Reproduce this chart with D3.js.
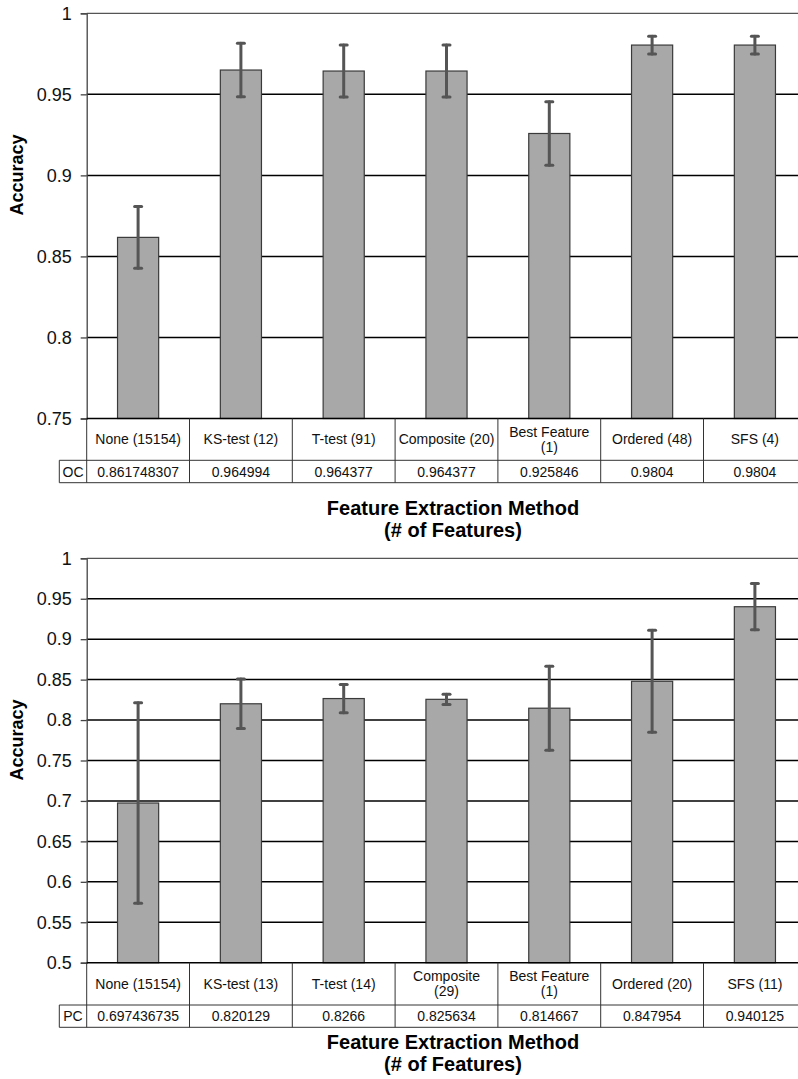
<!DOCTYPE html>
<html>
<head>
<meta charset="utf-8">
<script src="https://cdn.jsdelivr.net/npm/d3@7"></script>
<style>
  body { margin: 0; background: #fff; }
  svg { display: block; font-family: "Liberation Sans", Arial, Helvetica, sans-serif; }
</style>
</head>
<body>
<svg id="chart" width="798" height="1079"></svg>
<script>
// top panel: OC
const methodsOC = ["None (15154)", "KS-test (12)", "T-test (91)", "Composite (20)", "Best Feature\n(1)", "Ordered (48)", "SFS (4)"];
const accuracyOC = [0.861748307, 0.964994, 0.964377, 0.964377, 0.925846, 0.9804, 0.9804];
const accuracyLabelsOC = ["0.861748307", "0.964994", "0.964377", "0.964377", "0.925846", "0.9804", "0.9804"];
const errorOC = [0.019, 0.0165, 0.016, 0.016, 0.0196, 0.0055, 0.0055];
const ticksOC = [0.75, 0.8, 0.85, 0.9, 0.95, 1];

// bottom panel: PC
const methodsPC = ["None (15154)", "KS-test (13)", "T-test (14)", "Composite\n(29)", "Best Feature\n(1)", "Ordered (20)", "SFS (11)"];
const accuracyPC = [0.697436735, 0.820129, 0.8266, 0.825634, 0.814667, 0.847954, 0.940125];
const accuracyLabelsPC = ["0.697436735", "0.820129", "0.8266", "0.825634", "0.814667", "0.847954", "0.940125"];
const errorPC = [0.124, 0.0305, 0.0175, 0.0063, 0.052, 0.063, 0.0286];
const ticksPC = [0.5, 0.55, 0.6, 0.65, 0.7, 0.75, 0.8, 0.85, 0.9, 0.95, 1];

const svg = d3.select("#chart");
const left = 86.7, right = 806.3;

function drawPanel(p) {
  const g = svg.append("g");

  const x = d3.scaleBand()
    .domain(p.methods)
    .range([left, right])
    .paddingInner(0)
    .paddingOuter(0);

  const y = d3.scaleLinear()
    .domain([p.ticks[0], 1])
    .range([p.base, p.top]);

  // gridlines
  g.append("g")
    .selectAll("line")
    .data(p.ticks.slice(1, -1))
    .join("line")
    .attr("x1", left).attr("x2", right)
    .attr("y1", d => y(d)).attr("y2", d => y(d))
    .attr("stroke", "#000")
    .attr("stroke-width", 1.5);

  // top frame line
  g.append("line")
    .attr("x1", left).attr("x2", right)
    .attr("y1", y(1)).attr("y2", y(1))
    .attr("stroke", "#555").attr("stroke-width", 1.3);

  // y axis
  const yAxis = d3.axisLeft(y)
    .tickValues(p.ticks)
    .tickSize(6)
    .tickPadding(9)
    .tickFormat(d => String(+d.toFixed(2)));

  const ax = g.append("g")
    .attr("transform", `translate(${left},0)`)
    .call(yAxis);
  ax.select(".domain").attr("stroke", "#444").attr("stroke-width", 1.3);
  ax.selectAll(".tick line").attr("stroke", "#444").attr("stroke-width", 1.3);
  ax.selectAll(".tick text")
    .attr("font-size", 18)
    .attr("font-family", "Liberation Sans, Arial, sans-serif")
    .attr("fill", "#111");

  // bars
  const bw = x.step() * 0.4;
  g.append("g")
    .selectAll("rect")
    .data(p.values)
    .join("rect")
    .attr("x", (d, i) => x(p.methods[i]) + (x.step() - bw) / 2)
    .attr("y", d => y(d))
    .attr("width", bw)
    .attr("height", d => p.base - y(d))
    .attr("fill", "#a8a8a8")
    .attr("stroke", "#3a3a3a")
    .attr("stroke-width", 1.2);

  // error bars
  const eg = g.append("g")
    .attr("stroke", "#555")
    .attr("stroke-width", 3)
    .attr("stroke-linecap", "round");
  p.values.forEach((v, i) => {
    const cx = x(p.methods[i]) + x.step() / 2;
    const hi = y(v + p.err[i]), lo = y(v - p.err[i]);
    eg.append("line").attr("x1", cx).attr("x2", cx).attr("y1", hi).attr("y2", lo);
    eg.append("line").attr("x1", cx - 3.5).attr("x2", cx + 3.5).attr("y1", hi).attr("y2", hi);
    eg.append("line").attr("x1", cx - 3.5).attr("x2", cx + 3.5).attr("y1", lo).attr("y2", lo);
  });

  // data table
  const tg = g.append("g").attr("stroke", "#333").attr("stroke-width", 1);
  tg.append("line").attr("x1", left).attr("x2", right).attr("y1", p.base).attr("y2", p.base)
    .attr("stroke", "#000").attr("stroke-width", 1.5);
  tg.append("line").attr("x1", p.labelLeft).attr("x2", right).attr("y1", p.headBottom).attr("y2", p.headBottom);
  tg.append("line").attr("x1", p.labelLeft).attr("x2", right).attr("y1", p.rowBottom).attr("y2", p.rowBottom);
  tg.selectAll("line.col")
    .data(p.methods.concat(["end"]))
    .join("line")
    .attr("class", "col")
    .attr("x1", (d, i) => left + i * x.step())
    .attr("x2", (d, i) => left + i * x.step())
    .attr("y1", p.base).attr("y2", p.rowBottom);
  tg.append("line").attr("x1", p.labelLeft).attr("x2", p.labelLeft)
    .attr("y1", p.headBottom).attr("y2", p.rowBottom);

  // header labels
  const headMid = (p.base + p.headBottom) / 2;
  g.append("g")
    .selectAll("text")
    .data(p.methods)
    .join("text")
    .attr("text-anchor", "middle")
    .attr("font-size", 14)
    .attr("fill", "#111")
    .each(function (d) {
      const lines = d.split("\n");
      const t = d3.select(this);
      const x0 = x(d) + x.step() / 2;
      const y0 = headMid + 5 - (lines.length - 1) * 7.5;
      lines.forEach((ln, k) => {
        t.append("tspan").attr("x", x0).attr("y", y0 + k * 15).text(ln);
      });
    });

  // value row
  const rowMid = (p.headBottom + p.rowBottom) / 2;
  g.append("g")
    .selectAll("text")
    .data(p.labels)
    .join("text")
    .attr("x", (d, i) => x(p.methods[i]) + x.step() / 2)
    .attr("y", rowMid + 5)
    .attr("text-anchor", "middle")
    .attr("font-size", 14)
    .attr("fill", "#111")
    .text(d => d);

  g.append("text")
    .attr("x", (p.labelLeft + left) / 2)
    .attr("y", rowMid + 5)
    .attr("text-anchor", "middle")
    .attr("font-size", 14)
    .attr("fill", "#111")
    .text(p.series);

  // axis titles
  g.append("text")
    .attr("transform", `translate(23,${p.yLabelMid}) rotate(-90)`)
    .attr("text-anchor", "middle")
    .attr("font-size", 18)
    .attr("font-weight", "bold")
    .text("Accuracy");

  g.append("text")
    .attr("x", 453).attr("y", p.titleY)
    .attr("text-anchor", "middle")
    .attr("font-size", 20)
    .attr("font-weight", "bold")
    .text("Feature Extraction Method");
  g.append("text")
    .attr("x", 453).attr("y", p.titleY + p.titleGap)
    .attr("text-anchor", "middle")
    .attr("font-size", 20)
    .attr("font-weight", "bold")
    .text("(# of Features)");
}

drawPanel({
  methods: methodsOC, values: accuracyOC, labels: accuracyLabelsOC, err: errorOC,
  ticks: ticksOC, series: "OC",
  top: 13.3, base: 418.5, headBottom: 460.3, rowBottom: 482.7, labelLeft: 59.3,
  yLabelMid: 175, titleY: 515, titleGap: 22
});

drawPanel({
  methods: methodsPC, values: accuracyPC, labels: accuracyLabelsPC, err: errorPC,
  ticks: ticksPC, series: "PC",
  top: 558.3, base: 962.7, headBottom: 1005, rowBottom: 1027.3, labelLeft: 59.3,
  yLabelMid: 740, titleY: 1049, titleGap: 22
});
</script>
</body>
</html>
